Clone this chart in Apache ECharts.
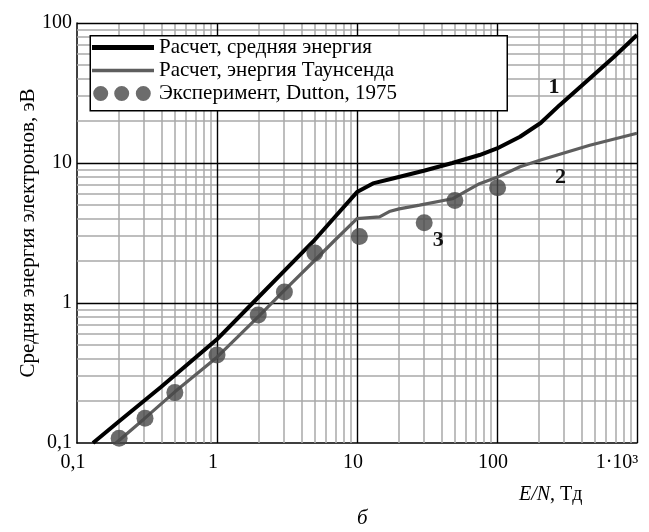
<!DOCTYPE html>
<html><head><meta charset="utf-8">
<script src="https://cdn.jsdelivr.net/npm/echarts@6/dist/echarts.min.js"></script>
<style>html,body{margin:0;padding:0;background:#fff}#c{width:649px;height:532px}</style>
</head><body><div id="c"></div>
<script>
// ---- data ----
const meanX = [0.13, 0.2, 0.4, 1, 1.8, 3, 4.85, 7, 10, 13, 18, 30, 48, 75, 100, 146, 205, 280, 400, 680, 1000];
const meanY = [0.1, 0.143, 0.252, 0.55, 1.0, 1.68, 2.74, 4.15, 6.2, 7.15, 7.75, 8.8, 10.0, 11.4, 12.7, 15.4, 19.3, 25.9, 35.5, 57, 82];
const townX = [0.19, 0.3, 0.5, 1, 1.4, 2, 3, 5, 7, 10, 14.5, 17, 20, 28, 48, 75, 100, 146, 205, 460, 1000];
const townY = [0.1, 0.148, 0.232, 0.41, 0.57, 0.81, 1.22, 2.02, 2.83, 4.0, 4.12, 4.5, 4.7, 5.0, 5.55, 7.12, 7.9, 9.4, 10.5, 13.4, 16.3];
const expX = [0.2, 0.306, 0.5, 1.0, 1.97, 3.03, 5.0, 10.4, 30.2, 50, 101];
const expY = [0.108, 0.15, 0.229, 0.425, 0.82, 1.2, 2.28, 2.98, 3.75, 5.4, 6.65];
const names = ['Расчет, средняя энергия', 'Расчет, энергия Таунсенда', 'Эксперимент, Dutton, 1975'];
const curveLabels = ['1', '2', '3'];
const curveLabelX = [255, 284, 38];
const curveLabelY = [34.6, 7.87, 2.8];
const xDecades = [0.1, 1, 10, 100, 1000];
const yDecades = [0.1, 1, 10, 100];
const minorMult = [2, 3, 4, 5, 6, 7, 8, 9];

const serif = "'Liberation Serif','Times New Roman',serif";
const zip = (a, b) => a.map((v, i) => [v, b[i]]);
const minorOf = dec => dec.slice(0, -1).flatMap(d => minorMult.map(m => +(d * m).toPrecision(6)));

const minorStyle = { color: '#a8a8a8', width: 1.5, type: 'solid' };
const majorStyle = { color: '#000', width: 1.4, type: 'solid' };
const gridLines = [
  ...minorOf(xDecades).map(v => ({ xAxis: v, lineStyle: minorStyle })),
  ...minorOf(yDecades).map(v => ({ yAxis: v, lineStyle: minorStyle })),
  ...xDecades.slice(1).map(v => ({ xAxis: v, lineStyle: majorStyle })),
  ...yDecades.slice(1).map(v => ({ yAxis: v, lineStyle: majorStyle }))
];

const chart = echarts.init(document.getElementById('c'), null, { renderer: 'canvas' });
chart.setOption({
  animation: false,
  backgroundColor: '#fff',
  textStyle: { fontFamily: serif },
  grid: { left: 77, right: 12, top: 23, bottom: 89, containLabel: false },
  title: [
    { text: '{i|E/N}, Тд', left: 519, top: 485, padding: 0,
      textStyle: { fontFamily: serif, fontSize: 20, fontWeight: 'normal', color: '#000',
        rich: { i: { fontFamily: serif, fontSize: 20, fontStyle: 'italic', color: '#000' } } } },
    { text: 'б', left: 357, top: 508, padding: 0,
      textStyle: { fontFamily: serif, fontSize: 21, fontStyle: 'italic', fontWeight: 'normal', color: '#000' } }
  ],
  graphic: [{
    type: 'rect', z: 6, left: 89.5, top: 35,
    shape: { width: 417, height: 75 },
    style: { fill: '#fff', stroke: '#000', lineWidth: 1.5 }
  }],
  legend: {
    z: 7, left: 92, top: 37, orient: 'vertical', padding: 0,
    itemWidth: 62, itemHeight: 16, itemGap: 2, itemTextGap: 5,
    selectedMode: false,
    itemStyle: { borderWidth: 0 },
    textStyle: { fontFamily: serif, fontSize: 21, color: '#000' },
    data: [
      { name: names[0], icon: 'path://M0,0M62,16M0,5.5h62v5h-62z' },
      { name: names[1], icon: 'path://M0,0M62,16M0,6.2h62v3.6h-62z' },
      { name: names[2], icon: 'path://M0,0M62,16M1.2,8a7.5,7.5 0 1,0 15,0a7.5,7.5 0 1,0 -15,0zM22.2,8a7.5,7.5 0 1,0 15,0a7.5,7.5 0 1,0 -15,0zM43.8,8a7.5,7.5 0 1,0 15,0a7.5,7.5 0 1,0 -15,0z' }
    ]
  },
  xAxis: {
    type: 'log', logBase: 10, min: 0.1, max: 1000,
    axisLine: { show: true, lineStyle: { color: '#000', width: 1.5 } },
    axisTick: { show: false },
    splitLine: { show: false },
    axisLabel: {
      margin: 10, color: '#000', fontFamily: serif, fontSize: 20,
      formatter: v => v > 500 ? '{b|1·10³}' : '{a|' + (v < 0.5 ? '0,1' : String(Math.round(v))) + '}',
      rich: {
        a: { fontFamily: serif, fontSize: 20, color: '#000', padding: [0, 8, 0, 0] },
        b: { fontFamily: serif, fontSize: 20, color: '#000', padding: [0, 40, 0, 0] }
      }
    }
  },
  yAxis: {
    type: 'log', logBase: 10, min: 0.1, max: 100,
    name: 'Средняя энергия электронов, эВ', nameLocation: 'middle', nameGap: 38,
    nameMoveOverlap: false,
    nameTextStyle: { fontFamily: serif, fontSize: 21, color: '#000' },
    axisLine: { show: true, lineStyle: { color: '#000', width: 1.5 } },
    axisTick: { show: false },
    splitLine: { show: false },
    axisLabel: {
      margin: 5, color: '#000', fontFamily: serif, fontSize: 20,
      formatter: v => v < 0.5 ? '0,1' : String(Math.round(v))
    }
  },
  series: [
    {
      name: '_grid', type: 'line', data: [[1, 1]], showSymbol: false, symbol: 'none',
      lineStyle: { width: 0 }, silent: true, z: 1,
      markLine: { z: 1, silent: true, symbol: ['none', 'none'], label: { show: false }, animation: false, data: gridLines }
    },
    {
      name: names[0], type: 'line', data: zip(meanX, meanY), showSymbol: false, symbol: 'none',
      color: '#000', lineStyle: { color: '#000', width: 4 }, z: 3
    },
    {
      name: names[1], type: 'line', data: zip(townX, townY), showSymbol: false, symbol: 'none',
      color: '#5e5e5e', lineStyle: { color: '#5e5e5e', width: 3.2 }, z: 3
    },
    {
      name: names[2], type: 'scatter', data: zip(expX, expY), symbol: 'circle', symbolSize: 17,
      color: '#474747', itemStyle: { color: '#474747' }, z: 4,
      markPoint: {
        z: 5, symbol: 'circle', symbolSize: 0, silent: true,
        label: { show: true, position: 'inside', formatter: '{b}', fontFamily: serif, fontSize: 22, fontWeight: 'bold', color: '#111' },
        data: curveLabels.map((t, i) => ({ name: t, coord: [curveLabelX[i], curveLabelY[i]] }))
      }
    }
  ]
});
</script>
</body></html>
